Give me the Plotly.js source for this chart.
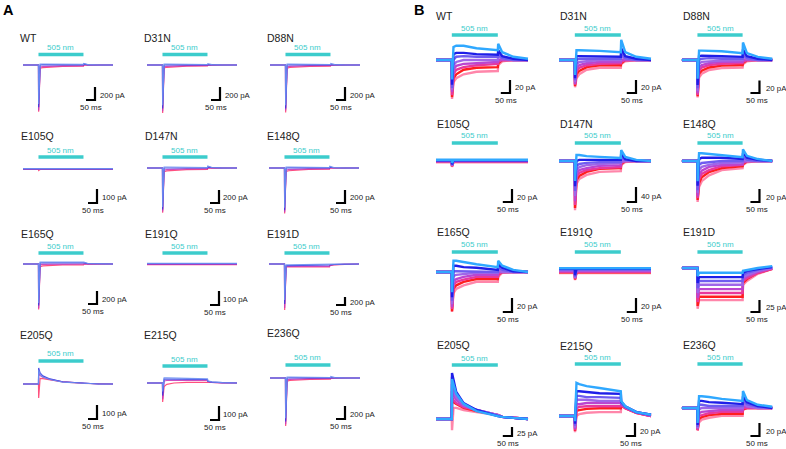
<!DOCTYPE html>
<html><head><meta charset="utf-8">
<script src="https://cdn.plot.ly/plotly-3.0.1.min.js"></script>
<style>html,body{margin:0;padding:0;background:#fff}#chart{width:786px;height:449px}</style>
</head><body><div id="chart"></div>
<script>
// ---------------- DATA ----------------
// sample times (ms) of every sweep; light pulse 86-336 ms
const T = [0, 86, 87, 95, 110, 150, 220, 336, 338, 360, 420, 500];
const lightOn = 86, lightOff = 336;
const mutants = ["WT","D31N","D88N","E105Q","D147N","E148Q","E165Q","E191Q","E191D","E205Q","E215Q","E236Q"];
const scaleA = [200,200,200,100,200,200,200,100,200,100,100,200]; // pA
const scaleB = [20,20,20,20,40,20,20,20,25,25,20,20];             // pA
const scaleMs = 50;

// Panel A sweeps (pA), top sweep first
const A_WT = [[0,0,-600,15,15,15,12,10,25,5,0,0],[0,0,-650,0,5,5,5,3,15,3,0,0],[0,0,-700,-30,-25,-18,-12,-10,5,0,0,0],[0,0,-720,-50,-40,-30,-22,-18,0,-3,0,0]];
const A_D31N = [[0,0,-620,15,15,12,10,8,20,5,0,0],[0,0,-670,0,3,3,3,2,12,3,0,0],[0,0,-710,-25,-20,-15,-10,-8,4,0,0,0],[0,0,-740,-45,-35,-25,-18,-15,0,-2,0,0]];
const A_D88N = [[0,0,-620,15,15,12,10,8,22,5,0,0],[0,0,-670,0,3,3,3,2,12,3,0,0],[0,0,-700,-28,-22,-16,-10,-8,4,0,0,0],[0,0,-730,-48,-38,-28,-20,-16,0,-2,0,0]];
const A_E105Q = [[3,3,3,3,3,3,3,3,3,3,3,3],[1,1,-3,1,1,1,1,1,1,1,1,1],[-1,-1,-6,-1,-1,-1,-1,-1,-1,-1,-1,-1],[-3,-3,-10,-3,-3,-3,-3,-3,-3,-3,-3,-3]];
const A_D147N = [[0,0,-600,15,15,12,10,8,30,8,0,0],[0,0,-640,0,0,0,0,0,15,5,0,0],[0,0,-670,-30,-25,-18,-12,-10,5,0,0,0],[0,0,-690,-55,-45,-35,-25,-20,0,-3,0,0]];
const A_E148Q = [[0,0,-610,15,15,12,10,8,25,6,0,0],[0,0,-650,0,2,2,2,2,14,4,0,0],[0,0,-680,-30,-24,-18,-12,-10,4,0,0,0],[0,0,-700,-52,-42,-32,-22,-18,0,-3,0,0]];
const A_E165Q = [[0,0,-600,30,30,28,25,20,30,8,0,0],[0,0,-640,15,18,18,15,12,18,5,0,0],[0,0,-680,-10,-5,-3,-3,-3,5,0,0,0],[0,0,-700,-40,-30,-22,-15,-12,0,-3,0,0]];
const A_E191Q = [[5,5,5,5,5,5,5,5,5,5,5,5],[2,2,2,2,2,2,2,2,2,2,2,2],[-2,-2,-2,-2,-2,-2,-2,-2,-2,-2,-2,-2],[-5,-5,-5,-5,-5,-5,-5,-5,-5,-5,-5,-5]];
const A_E191D = [[0,0,-900,-20,-20,-20,-20,-20,-10,-5,0,0],[0,0,-1000,-40,-40,-40,-40,-40,-22,-12,-3,0],[0,0,-1100,-60,-60,-60,-60,-60,-32,-18,-5,0],[0,0,-1150,-75,-75,-75,-75,-75,-42,-25,-8,0]];
const A_E205Q = [[0,0,100,70,50,32,14,4,4,2,0,0],[0,0,114,80,58,36,16,5,5,2,0,0],[0,0,80,60,48,33,16,5,5,2,0,0],[0,0,-100,40,38,30,15,5,5,2,0,0]];
const A_E215Q = [[0,0,-60,36,36,34,32,30,15,8,2,0],[0,0,-90,28,28,27,26,25,12,6,2,0],[0,0,-115,15,18,18,18,18,10,5,1,0],[0,0,-135,-25,-10,0,5,8,8,4,1,0]];
const A_E236Q = [[0,0,-620,15,15,12,10,8,22,5,0,0],[0,0,-670,0,3,3,3,2,12,3,0,0],[0,0,-710,-28,-22,-16,-10,-8,4,0,0,0],[0,0,-740,-48,-38,-28,-20,-16,0,-2,0,0]];

// Panel B sweeps (pA), top sweep first
const B_WT = [[0,0,-30,20,22,22,18,15,25,12,5,2],[0,0,-38,9,11,11,9,8,15,6,2,0],[0,0,-43,0,5,6,5,5,9,3,0,0],[0,0,-46,-8,-3,0,0,0,5,2,0,0],[0,0,-49,-15,-9,-6,-5,-3,0,0,0,0],[0,0,-54,-22,-15,-11,-8,-6,-3,0,0,0],[0,0,-57,-28,-22,-15,-12,-11,-5,0,0,0],[0,0,-60,-34,-28,-22,-18,-17,-8,-2,0,0]];
const B_D31N = [[0,0,-23,15,15,15,14,12,31,12,5,2],[0,0,-28,6,6,6,6,5,18,6,2,0],[0,0,-31,0,2,2,2,2,11,3,0,0],[0,0,-34,-6,-3,-2,0,0,5,2,0,0],[0,0,-37,-12,-8,-5,-3,-3,0,0,0,0],[0,0,-38,-17,-12,-8,-6,-5,-3,0,0,0],[0,0,-40,-22,-17,-11,-8,-8,-5,0,0,0],[0,0,-42,-28,-22,-15,-12,-12,-6,-2,0,0]];
const B_D88N = [[0,0,-30,15,15,15,14,11,28,11,5,2],[0,0,-40,6,7,7,6,5,17,6,2,0],[0,0,-45,0,2,3,2,2,10,3,0,0],[0,0,-50,-6,-3,-2,-1,0,5,2,0,0],[0,0,-53,-12,-8,-5,-3,-3,0,0,0,0],[0,0,-56,-17,-12,-8,-6,-5,-3,0,0,0],[0,0,-58,-22,-17,-12,-9,-8,-5,0,0,0],[0,0,-60,-28,-22,-16,-13,-12,-7,-2,0,0]];
const B_E105Q = [[2,2,-3,2,2,2,2,2,2,2,2,2],[1,1,-5,1,1,1,1,1,1,1,1,1],[1,1,-6,1,1,1,1,1,1,1,1,1],[0,0,-7,0,0,0,0,0,0,0,0,0],[0,0,-7,0,0,0,0,0,0,0,0,0],[-1,-1,-8,-1,-1,-1,-1,-1,-1,-1,-1,-1],[-1,-1,-8,-1,-1,-1,-1,-1,-1,-1,-1,-1],[-2,-2,-9,-2,-2,-2,-2,-2,-2,-2,-2,-2]];
const B_D147N = [[0,0,-53,16,16,13,11,8,29,11,3,0],[0,0,-67,0,3,3,3,3,19,5,0,0],[0,0,-80,-13,-8,-5,-3,-3,8,3,0,0],[0,0,-93,-24,-16,-11,-8,-5,0,0,0,0],[0,0,-107,-35,-24,-19,-13,-11,-3,0,0,0],[0,0,-117,-43,-32,-24,-19,-16,-5,0,0,0],[0,0,-125,-51,-40,-29,-21,-19,-8,0,0,0],[0,0,-131,-61,-48,-37,-29,-27,-11,-3,0,0]];
const B_E148Q = [[0,0,-31,12,12,11,9,6,18,8,3,0],[0,0,-38,3,5,5,5,3,12,5,2,0],[0,0,-45,-6,-3,-2,0,0,6,2,0,0],[0,0,-49,-14,-9,-6,-3,-2,2,0,0,0],[0,0,-54,-22,-15,-9,-6,-5,-2,0,0,0],[0,0,-57,-28,-20,-14,-8,-6,-3,0,0,0],[0,0,-60,-34,-25,-17,-11,-8,-5,0,0,0],[0,0,-63,-40,-31,-22,-14,-11,-6,-2,0,0]];
const B_E165Q = [[0,0,-29,16,16,14,11,7,16,9,3,0],[0,0,-36,9,9,7,6,3,11,6,1,0],[0,0,-41,1,1,1,1,0,7,3,0,0],[0,0,-46,-6,-4,-3,-1,-1,3,0,0,0],[0,0,-50,-13,-10,-7,-4,-4,0,0,0,0],[0,0,-53,-19,-14,-11,-7,-7,-3,0,0,0],[0,0,-56,-24,-19,-14,-10,-10,-4,0,0,0],[0,0,-57,-30,-24,-19,-14,-14,-7,-1,0,0]];
const B_E191Q = [[4,4,4,4,4,4,4,4,4,4,4,4],[3,3,-6,3,3,3,3,3,3,3,3,3],[2,2,-8,2,2,2,2,2,2,2,2,2],[1,1,-10,1,1,1,1,1,1,1,1,1],[0,0,-10,0,0,0,0,0,0,0,0,0],[-1,-1,-11,-1,-1,-1,-1,-1,-1,-1,-1,-1],[-2,-2,-12,-2,-2,-2,-2,-2,-2,-2,-2,-2],[-3,-3,-13,-3,-3,-3,-3,-3,-3,-3,-3,-3]];
const B_E191D = [[0,0,-17,-10,-10,-10,-10,-10,-6,-4,0,4],[0,0,-31,-19,-19,-19,-19,-19,-10,-6,-2,2],[0,0,-42,-27,-27,-27,-27,-27,-15,-10,-4,2],[0,0,-52,-35,-35,-35,-35,-35,-19,-15,-6,0],[0,0,-62,-44,-44,-44,-44,-44,-23,-17,-8,0],[0,0,-71,-52,-52,-52,-52,-52,-27,-21,-10,-2],[0,0,-79,-60,-60,-60,-60,-60,-31,-23,-10,-2],[0,0,-85,-67,-67,-67,-67,-67,-35,-27,-12,-2]];
const B_E205Q = [[0,0,111,97,70,42,22,8,8,6,3,0],[0,0,128,106,75,44,25,8,8,6,3,0],[0,0,117,95,70,42,25,8,8,6,3,0],[0,0,97,81,61,39,25,11,11,6,3,0],[0,0,78,67,53,36,25,11,11,6,3,0],[0,0,61,53,44,33,25,11,11,6,3,0],[0,0,53,47,42,31,22,11,11,6,3,0],[0,0,-31,31,31,25,19,11,11,6,3,0]];
const B_E215Q = [[0,0,-8,51,49,46,43,38,23,15,6,2],[0,0,-12,38,38,37,35,34,22,15,6,2],[0,0,-15,31,31,29,29,28,20,14,6,2],[0,0,-18,25,25,25,23,23,20,14,6,2],[0,0,-20,18,18,20,20,20,18,14,6,0],[0,0,-22,12,14,15,15,15,18,12,5,0],[0,0,-23,8,9,11,12,12,17,12,5,0],[0,0,-25,0,3,5,6,6,15,12,5,0]];
const B_E236Q = [[0,0,-23,18,18,17,14,11,26,12,5,2],[0,0,-26,11,11,9,8,6,18,9,3,0],[0,0,-29,5,5,3,3,3,12,6,2,0],[0,0,-31,-2,0,0,0,0,8,3,0,0],[0,0,-32,-8,-6,-5,-3,-3,3,2,0,0],[0,0,-34,-12,-11,-8,-6,-6,0,0,0,0],[0,0,-34,-17,-14,-11,-9,-9,-2,0,0,0],[0,0,-35,-22,-18,-15,-12,-12,-3,0,0,0]];

const sweepsA = [A_WT,A_D31N,A_D88N,A_E105Q,A_D147N,A_E148Q,A_E165Q,A_E191Q,A_E191D,A_E205Q,A_E215Q,A_E236Q];
const sweepsB = [B_WT,B_D31N,B_D88N,B_E105Q,B_D147N,B_E148Q,B_E165Q,B_E191Q,B_E191D,B_E205Q,B_E215Q,B_E236Q];

// ---------------- LAYOUT (pixel positions) ----------------
const W = 786, H = 449;
const posA = [
 {lx:18, ly:38, tx0:23, yb:65, sx:95, sby:100, sh:13, cy:54.5, ny:47},
 {lx:142,ly:38, tx0:147,yb:65, sx:220,sby:100, sh:13, cy:54.5, ny:47},
 {lx:265,ly:38, tx0:270,yb:65, sx:345,sby:100, sh:13, cy:54.5, ny:47},
 {lx:19, ly:136,tx0:23, yb:169,sx:97, sby:203, sh:14, cy:157, ny:150},
 {lx:143,ly:136,tx0:147,yb:168,sx:219,sby:203, sh:13, cy:157, ny:150},
 {lx:265,ly:136,tx0:269,yb:168,sx:345,sby:203, sh:13, cy:157, ny:150},
 {lx:19, ly:234,tx0:23, yb:264,sx:97, sby:304, sh:13, cy:253, ny:246},
 {lx:143,ly:234,tx0:147,yb:264,sx:219,sby:305, sh:14, cy:253, ny:246},
 {lx:265,ly:234,tx0:269,yb:264,sx:345,sby:305, sh:8,  cy:253, ny:246},
 {lx:18, ly:335,tx0:23, yb:384,sx:97, sby:419, sh:14, cy:361, ny:353},
 {lx:142,ly:335,tx0:147,yb:383,sx:219,sby:420, sh:14, cy:366, ny:359},
 {lx:265,ly:333,tx0:270,yb:378,sx:345,sby:419, sh:13, cy:365, ny:357}
];
const posB = [
 {lx:434,ly:16, tx0:436,yb:60, sx:510,sby:93, sh:13, cy:35, ny:28},
 {lx:558,ly:16, tx0:559,yb:60, sx:636,sby:93, sh:13, cy:35, ny:28},
 {lx:681,ly:16, tx0:682,yb:60, sx:761,sby:93, sh:12.5,cy:35, ny:28},
 {lx:435,ly:124,tx0:436,yb:161,sx:512,sby:202,sh:13, cy:143,ny:136},
 {lx:558,ly:124,tx0:559,yb:161,sx:636,sby:202,sh:15, cy:143,ny:136},
 {lx:681,ly:124,tx0:682,yb:161,sx:761,sby:202,sh:13, cy:143,ny:136},
 {lx:435,ly:232,tx0:436,yb:272,sx:512,sby:312,sh:14, cy:252,ny:245},
 {lx:558,ly:232,tx0:559,yb:271,sx:636,sby:312,sh:14, cy:252,ny:245},
 {lx:681,ly:232,tx0:682,yb:268,sx:761,sby:312,sh:12, cy:252,ny:245},
 {lx:435,ly:345,tx0:436,yb:419,sx:512,sby:436,sh:9,  cy:365,ny:358},
 {lx:558,ly:346,tx0:559,yb:416,sx:635,sby:436,sh:13, cy:364,ny:357},
 {lx:681,ly:345,tx0:682,yb:408,sx:761,sby:436,sh:13, cy:364,ny:357}
];
const colA = ['#6b8ff2','#3a3ae0','#c43cbc','#ff3d70'];
const colB = ['#2fa8ff','#1e1ee8','#6f5cf0','#9f66e8','#bb45d0','#e8389c','#ff1e1e','#ff86aa'];
const FONT = 'Liberation Sans, Arial, sans-serif';
const CYAN = '#3ccccc';

const traces = [], annotations = [], shapes = [];
const layout = {width:W, height:H, margin:{l:0,r:0,t:0,b:0}, paper_bgcolor:'#fff', plot_bgcolor:'rgba(0,0,0,0)',
  showlegend:false, hovermode:false, font:{family:FONT}};

let n = 0;
function addPanel(pos, sweeps, colors, lw, op, wpx, sv, name){
  n++;
  const xn = n===1?'x':'x'+n, yn = n===1?'y':'y'+n;
  const kx = wpx/500;          // px per ms
  const ky = pos.sh/sv;        // px per pA
  const dx0 = pos.tx0-6, dx1 = pos.tx0+wpx+14;
  const top = Math.max(0,pos.yb-62), bot = Math.min(H,pos.yb+62);
  layout[n===1?'xaxis':'xaxis'+n] = {domain:[dx0/W, dx1/W], range:[(dx0-pos.tx0)/kx,(dx1-pos.tx0)/kx], visible:false, anchor:yn};
  layout[n===1?'yaxis':'yaxis'+n] = {domain:[1-bot/H, 1-top/H], range:[(pos.yb-bot)/ky,(pos.yb-top)/ky], visible:false, anchor:xn};
  for (let i=sweeps.length-1;i>=0;i--){
    traces.push({type:'scatter', mode:'lines', x:T, y:sweeps[i], xaxis:xn, yaxis:yn,
      line:{color:colors[i], width:lw}, opacity:op});
  }
  const xs = (pos.sx-pos.tx0)/kx, ys = (pos.yb-pos.sby)/ky;
  traces.push({type:'scatter', mode:'lines', x:[xs-scaleMs, xs, xs], y:[ys, ys, ys+sv], xaxis:xn, yaxis:yn,
    line:{color:'#000', width:2.2}});
  shapes.push({type:'line', xref:xn, yref:'paper', x0:lightOn, x1:lightOff, y0:1-pos.cy/H, y1:1-pos.cy/H,
    line:{color:CYAN, width:3.5}});
  const mid = pos.tx0 + (lightOn+lightOff)/2*kx;
  annotations.push({xref:'paper', yref:'paper', x:mid/W, y:1-pos.ny/H, text:'505 nm', showarrow:false,
    xanchor:'center', yanchor:'middle', font:{size:8, color:CYAN, family:FONT}});
  annotations.push({xref:'paper', yref:'paper', x:pos.lx/W, y:1-pos.ly/H, text:name, showarrow:false,
    xanchor:'left', yanchor:'middle', font:{size:10.5, color:'#222', family:FONT}});
  annotations.push({xref:'paper', yref:'paper', x:(pos.sx+2.5)/W, y:1-(pos.sby-pos.sh/2+1.5)/H, text:sv+' pA', showarrow:false,
    xanchor:'left', yanchor:'middle', font:{size:7.8, color:'#222', family:FONT}});
  annotations.push({xref:'paper', yref:'paper', x:(pos.sx-4)/W, y:1-(pos.sby+7.5)/H, text:scaleMs+' ms', showarrow:false,
    xanchor:'center', yanchor:'middle', font:{size:8, color:'#222', family:FONT}});
}
for (let i=0;i<12;i++) addPanel(posA[i], sweepsA[i], colA, 1.2, 0.9, 90, scaleA[i], mutants[i]);
for (let i=0;i<12;i++) addPanel(posB[i], sweepsB[i], colB, 2.4, 1, 92, scaleB[i], mutants[i]);

annotations.push({xref:'paper', yref:'paper', x:1/W, y:1-10/H, text:'<b>A</b>', showarrow:false, xanchor:'left', yanchor:'middle', font:{size:14.5, color:'#000', family:FONT}});
annotations.push({xref:'paper', yref:'paper', x:412/W, y:1-10/H, text:'<b>B</b>', showarrow:false, xanchor:'left', yanchor:'middle', font:{size:14.5, color:'#000', family:FONT}});
layout.annotations = annotations;
layout.shapes = shapes;
Plotly.newPlot('chart', traces, layout, {staticPlot:true, displayModeBar:false});
</script>
</body></html>
